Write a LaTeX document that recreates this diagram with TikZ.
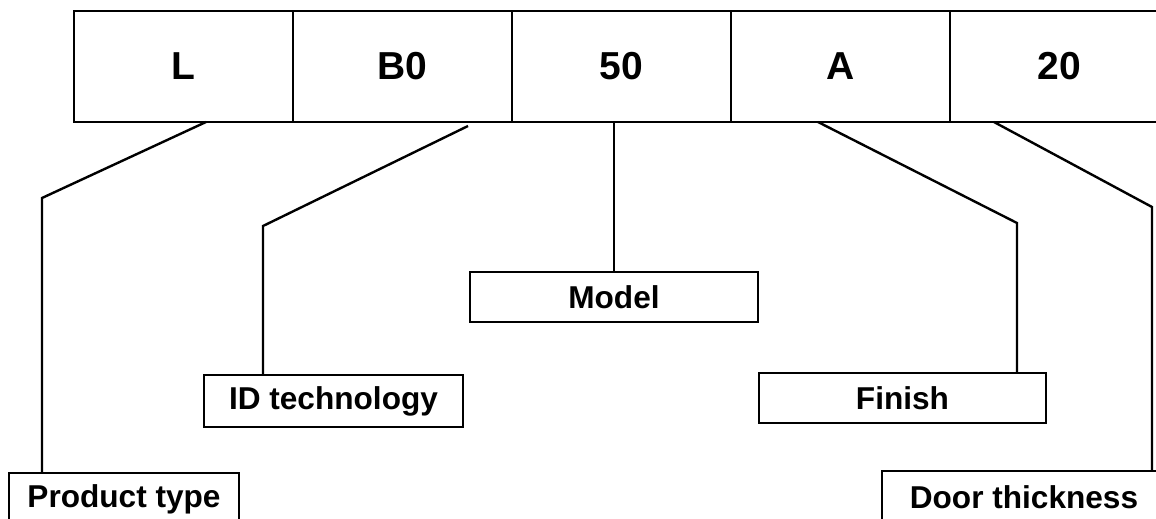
\documentclass[tikz,border=0pt]{standalone}
\usepackage{fontspec}
\setmainfont{Liberation Sans}
\usetikzlibrary{positioning, calc}
\tikzset{
  cell/.style={
    draw,
    font=\fontsize{19.5}{23}\selectfont\bfseries,
    minimum width=109.5pt,
    minimum height=55.5pt,
    inner sep=0pt,
    outer sep=0pt,
    line width=1.2pt,
  },
  tag/.style={
    draw,
    font=\fontsize{15.8}{19}\selectfont\bfseries,
    minimum height=26pt,
    inner sep=0pt,
    outer sep=0pt,
    line width=1.2pt,
  },
  link/.style={line width=1.2pt, line join=miter},
}

\begin{document}
\begin{tikzpicture}[x=0.5pt, y=-0.5pt]
\useasboundingbox (0,0) rectangle (1156,519);
\clip (0,0) rectangle (1156,519);

% Code row
\node[cell] (tL) at (183.5,66.5) {L};
\node[cell, right=0pt of tL]    (tB0)    {B0};
\node[cell, right=0pt of tB0]   (tFifty) {50};
\node[cell, right=0pt of tFifty] (tA)    {A};
\node[cell, right=0pt of tA]    (tTw)    {20};

% Labels
\node[tag, minimum width=115pt]   (lProduct) at (124,499)   {Product type};
\node[tag, minimum width=129.5pt] (lID)      at (333.5,401) {ID technology};
\node[tag, minimum width=144pt, minimum height=25pt]   (lModel)  at (614,297)   {Model};
\node[tag, minimum width=143.5pt, minimum height=25pt] (lFinish) at (902.5,398) {Finish};
\node[tag, minimum width=142pt]   (lDoor)    at (1024,497)  {Door thickness};

% Elbows
\coordinate (kL)  at (42,198);
\coordinate (kB0) at (263,226);
\coordinate (kA)  at (1017,223);
\coordinate (kTw) at (1152,207);

% --- Leader lines ------------------------------------------------------
\draw[link] ([xshift=11.25pt]tL.south) -- (kL) -- (kL |- lProduct.north);
\draw[link] ([xshift=32.75pt, yshift=-2pt]tB0.south) -- (kB0) -- (kB0 |- lID.north);
\draw[link] (lModel.north |- tFifty.south) -- (lModel.north);
\draw[link] ([xshift=-11.25pt]tA.south) -- (kA) -- (kA |- lFinish.north);
\draw[link] ([xshift=-32.75pt]tTw.south) -- (kTw) -- (kTw |- lDoor.north);

\end{tikzpicture}
\end{document}
